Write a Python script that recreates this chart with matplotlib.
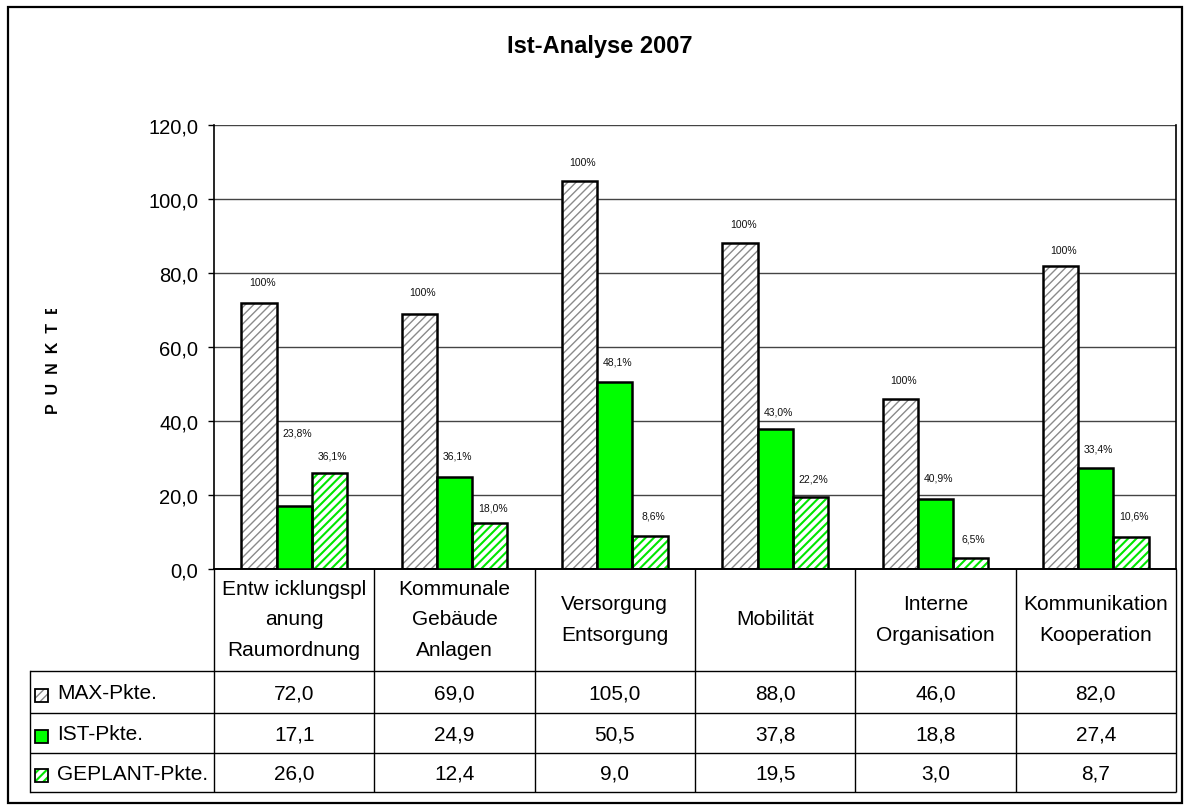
import numpy as np
import matplotlib
matplotlib.use("Agg")
import matplotlib.pyplot as plt
from matplotlib.patches import Rectangle
from matplotlib.ticker import MultipleLocator, FuncFormatter
from matplotlib.transforms import Bbox

# ---------------- data ----------------
categories = ["Entw icklungspl\nanung\nRaumordnung", "Kommunale\nGebäude\nAnlagen",
              "Versorgung\nEntsorgung", "Mobilität", "Interne\nOrganisation",
              "Kommunikation\nKooperation"]
series_names = ["MAX-Pkte.", "IST-Pkte.", "GEPLANT-Pkte."]
max_pkte = [72.0, 69.0, 105.0, 88.0, 46.0, 82.0]
ist_pkte = [17.1, 24.9, 50.5, 37.8, 18.8, 27.4]
geplant_pkte = [26.0, 12.4, 9.0, 19.5, 3.0, 8.7]
title = "Ist-Analyse 2007"
y_label = "P  U  N  K  T  E"
y_max = 120
y_step = 20

# ---------------- layout / style ----------------
plt.rcParams['font.family'] = ['Liberation Sans', 'DejaVu Sans']
W, H = 1190, 812
PL, PR, PT, PB = 214, 1176, 126, 570          # plot area in pixels
ROWS = [570, 672, 714, 754, 793]              # table row borders
TL = 30                                        # table left edge
label_lift = [[21, 22, 18, 19, 19, 16],        # pixel lift of % labels
              [73, 21, 21, 18, 22, 19],
              [17, 16, 20, 18, 19, 21]]

fig = plt.figure(figsize=(W / 100, H / 100), dpi=100)
ax = fig.add_axes([PL / W, 1 - PB / H, (PR - PL) / W, (PB - PT) / H])
ov = fig.add_axes([0, 0, 1, 1], zorder=5)
ov.set_xlim(0, W)
ov.set_ylim(H, 0)
ov.axis('off')
ov.patch.set_alpha(0)

n = len(categories)
x = np.arange(n)
bw = 0.219
offs = [-bw, 0.0, bw]
series = [max_pkte, ist_pkte, geplant_pkte]
fills = ['white', '#00ff00', 'white']
hatches = ['////', None, '////']
hcolors = ['#8a8a8a', None, '#00e600']
hlws = [1.0, None, 1.5]

for values, off, fc, h, hc, hl in zip(series, offs, fills, hatches, hcolors, hlws):
    if h:
        with plt.rc_context({'hatch.linewidth': hl}):
            ax.bar(x + off, values, bw, color=fc, edgecolor=hc, hatch=h,
                   linewidth=0, zorder=2)
        ax.bar(x + off, values, bw, facecolor='none', edgecolor='black',
               linewidth=1.8, zorder=3)
    else:
        ax.bar(x + off, values, bw, facecolor=fc, edgecolor='black',
               linewidth=1.8, zorder=3)

# percentage labels
for si, (values, off) in enumerate(zip(series, offs)):
    for ci in range(n):
        if si == 0:
            txt = "100%"
        else:
            pct = values[ci] / max_pkte[ci] * 100 + 1e-9
            txt = f"{pct:.1f}".replace('.', ',') + "%"
        ax.annotate(txt, (x[ci] + off, values[ci]), xytext=(3, label_lift[si][ci]),
                    textcoords='offset pixels', ha='center', va='center',
                    fontsize=7.5, color='#111111', zorder=4)

ax.set_xlim(-0.5, n - 0.5)
ax.set_ylim(0, y_max)
ax.yaxis.set_major_locator(MultipleLocator(y_step))
ax.yaxis.set_major_formatter(FuncFormatter(lambda v, _: f"{v:.1f}".replace('.', ',')))
ax.yaxis.grid(True, color='#444444', linewidth=1.0)
ax.set_axisbelow(True)
ax.set_xticks([])
ax.tick_params(axis='y', direction='out', length=4.3, width=1, pad=7,
               labelsize=14.5, colors='black')
ax.spines['top'].set_visible(False)
ax.spines['left'].set_linewidth(1.2)
ax.spines['bottom'].set_linewidth(1.4)
ax.spines['right'].set_linewidth(1.2)

# ---------------- table ----------------
colw = (PR - PL) / n
lc = 'black'
for i in range(n + 1):
    xe = PL + i * colw
    ov.plot([xe, xe], [ROWS[0], ROWS[-1]], color=lc, lw=1.0, solid_capstyle='butt')
for yr in ROWS[1:]:
    ov.plot([TL, PR], [yr, yr], color=lc, lw=1.0, solid_capstyle='butt')
ov.plot([TL, TL], [ROWS[1], ROWS[-1]], color=lc, lw=1.0)

for ci, cat in enumerate(categories):
    cx = PL + (ci + 0.5) * colw
    ov.text(cx, (ROWS[0] + ROWS[1]) / 2 - 1, cat, ha='center', va='center',
            fontsize=15, linespacing=1.75)
    for si, values in enumerate(series):
        ov.text(cx, (ROWS[si + 1] + ROWS[si + 2]) / 2 + 1,
                f"{values[ci]:.1f}".replace('.', ','), ha='center', va='center', fontsize=15)

for si, name in enumerate(series_names):
    yc = (ROWS[si + 1] + ROWS[si + 2]) / 2
    sq = 13
    if hatches[si]:
        with plt.rc_context({'hatch.linewidth': 1.0 if si == 0 else 1.5}):
            ov.add_patch(Rectangle((35, yc + 3 - sq / 2), sq, sq, facecolor='white',
                                   edgecolor=hcolors[si], hatch='////',
                                   linewidth=0))
        ov.add_patch(Rectangle((35, yc + 3 - sq / 2), sq, sq, facecolor='none',
                               edgecolor='black', linewidth=1.3))
    else:
        ov.add_patch(Rectangle((35, yc + 3 - sq / 2), sq, sq, facecolor=fills[si],
                               edgecolor='black', linewidth=1.3))
    ov.text(57, yc + 1, name, ha='left', va='center', fontsize=15)

# ---------------- title, y label, frame ----------------
ov.text(600, 53, title, ha='center', va='baseline', fontsize=17, fontweight='bold')
yl = ov.text(53, 414, y_label, ha='center', va='bottom', rotation=90,
             fontsize=11.5, fontweight='bold')
fig.canvas.draw()
ext = yl.get_window_extent()
yl.set_clip_box(Bbox([[0, 0], [W, ext.y1 - 7]]))
yl.set_clip_on(True)

ov.add_patch(Rectangle((8, 8), 1174, 796, facecolor='none', edgecolor='black',
                       linewidth=1.6))

fig.savefig("out.png", dpi=100)
